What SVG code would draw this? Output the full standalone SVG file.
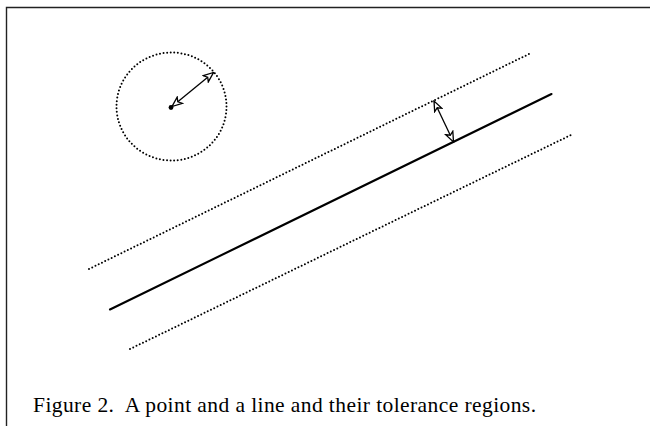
<svg xmlns="http://www.w3.org/2000/svg" width="650" height="426" viewBox="0 0 650 426">
  <style>
    .frame { stroke: #222; stroke-width: 1.4; fill: none; }
    .dotted { stroke: #000; stroke-width: 2; fill: none; stroke-linecap: round; stroke-dasharray: 0 3.6; }
    .solid { stroke: #000; stroke-width: 2.1; fill: none; stroke-linecap: round; }
    .arrow { stroke: #000; stroke-width: 1.3; fill: none; marker-start: url(#ah); marker-end: url(#ah); }
    .caption { font-family: "Liberation Serif", "Times New Roman", serif; font-size: 21.5px; fill: #000; }
  </style>
  <defs>
    <marker id="ah" viewBox="0 0 12 10" refX="11" refY="5" markerWidth="12" markerHeight="10" markerUnits="userSpaceOnUse" orient="auto-start-reverse">
      <path d="M1,1 L11,5 L1,9 L3.5,5 Z" fill="#fff" stroke="#000" stroke-width="1.3" stroke-linejoin="miter"/>
    </marker>
  </defs>
  <rect width="650" height="426" fill="#fff"/>
  <g id="frame">
    <path class="frame" d="M6.5,426 V7.5 H650"/>
  </g>
  <g id="point-region">
    <ellipse class="dotted" cx="171.5" cy="106.5" rx="55" ry="54"/>
    <circle cx="171" cy="107.5" r="2.4" fill="#000"/>
  </g>
  <g id="line-region">
    <line class="dotted" x1="89" y1="269" x2="529" y2="54"/>
    <line class="solid" x1="110" y1="309.5" x2="551.5" y2="94"/>
    <line class="dotted" x1="130" y1="349" x2="572" y2="134.5"/>
  </g>
  <g id="connectors">
    <line class="arrow" x1="172" y1="106.5" x2="213.5" y2="72.5"/>
    <line class="arrow" x1="434" y1="101" x2="453.5" y2="142"/>
  </g>
  <g id="caption">
    <text class="caption" x="33" y="411.5" textLength="503" lengthAdjust="spacing" xml:space="preserve">Figure 2.  A point and a line and their tolerance regions.</text>
  </g>
</svg>
